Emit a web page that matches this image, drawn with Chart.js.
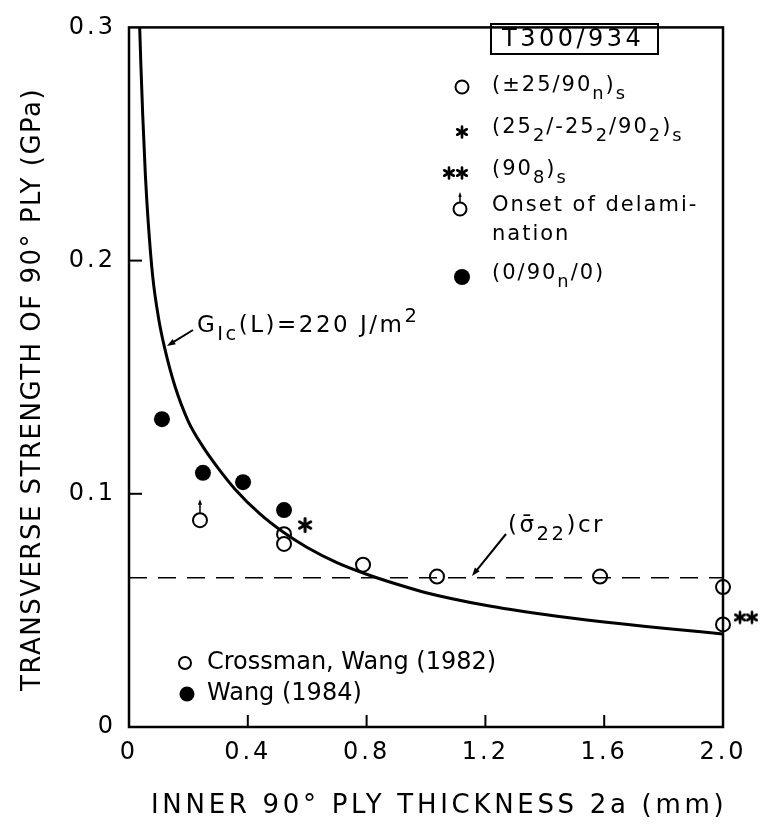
<!DOCTYPE html>
<html>
<head>
<meta charset="utf-8">
<script src="https://cdn.jsdelivr.net/npm/chart.js@4.4.1/dist/chart.umd.min.js"></script>
<style>
  body { margin: 0; background: #fff; }
  canvas { display: block; }
</style>
</head>
<body>
<canvas id="chartgraph" width="760" height="825"></canvas>
<script>
// fracture curve G_Ic(L) = 220 J/m^2
var curveT = [0.036, 0.040, 0.046, 0.055, 0.065, 0.080, 0.100, 0.121, 0.155, 0.20, 0.25, 0.30, 0.357, 0.44, 0.52, 0.60, 0.70, 0.80, 0.90, 1.00, 1.20, 1.40, 1.60, 1.80, 2.00];
var curveS = [0.300, 0.284, 0.263, 0.237, 0.216, 0.193, 0.175, 0.162, 0.146, 0.131, 0.120, 0.111, 0.102, 0.0915, 0.0835, 0.0770, 0.0705, 0.0655, 0.0613, 0.0576, 0.0522, 0.0482, 0.0450, 0.0423, 0.0399];

// (sigma22)cr level
var critT = [0, 2.0];
var critS = [0.064, 0.064];

// Crossman, Wang (1982) open circles
var openT = [0.239, 0.522, 0.522, 0.788, 1.037, 1.586, 2.0, 2.0];
var openS = [0.0887, 0.0827, 0.0785, 0.0696, 0.0645, 0.0645, 0.060, 0.044];

// Wang (1984) filled circles (0/90n/0)
var filledT = [0.111, 0.249, 0.384, 0.522];
var filledS = [0.132, 0.109, 0.105, 0.093];

// asterisk mark for the (25_2/-25_2/90_2)s layup
var starT = [0.593];
var starS = [0.0866];

var xTicks = [0, 0.4, 0.8, 1.2, 1.6, 2.0];
var yTicks = [0, 0.1, 0.2, 0.3];

var FONT = '"DejaVu Sans", sans-serif';

function pts(xs, ys) {
  return xs.map(function(x, i) { return {x: x, y: ys[i]}; });
}

// six spoke asterisk used as point style
function makeAsterisk(r, lw) {
  var c = document.createElement('canvas');
  var s = Math.ceil(r * 2 + lw + 2);
  c.width = s; c.height = s;
  var g = c.getContext('2d');
  g.strokeStyle = '#000';
  g.lineWidth = lw;
  g.lineCap = 'round';
  for (var k = 0; k < 3; k++) {
    var a = Math.PI / 2 + k * Math.PI / 3;
    g.beginPath();
    g.moveTo(s / 2 + r * Math.cos(a), s / 2 + r * Math.sin(a));
    g.lineTo(s / 2 - r * Math.cos(a), s / 2 - r * Math.sin(a));
    g.stroke();
  }
  return c;
}
var asterisk = makeAsterisk(6.5, 3);
var asteriskSmall = makeAsterisk(5.5, 2.6);

function putImg(ctx, img, x, y) {
  ctx.drawImage(img, x - img.width / 2, y - img.height / 2);
}

// text with sub/superscripts: parts = [[text, ''|'sub'|'sup'], ...]
function rich(ctx, x, y, parts, size, spacing, subScale) {
  ctx.textBaseline = 'middle';
  ctx.textAlign = 'left';
  ctx.letterSpacing = (spacing || 0) + 'px';
  var k = subScale || 0.8;
  var cx = x;
  parts.forEach(function(p) {
    var kind = p[1] || '';
    var fs = kind ? size * k : size;
    var dy = kind === 'sub' ? size * 0.38 : (kind === 'sup' ? -size * 0.4 : 0);
    ctx.font = fs + 'px ' + FONT;
    ctx.fillText(p[0], cx, y + dy);
    cx += ctx.measureText(p[0]).width;
  });
  ctx.letterSpacing = '0px';
}

function arrow(ctx, x1, y1, x2, y2, head) {
  var a = Math.atan2(y2 - y1, x2 - x1);
  ctx.beginPath();
  ctx.moveTo(x1, y1);
  ctx.lineTo(x2 - Math.cos(a) * head * 0.6, y2 - Math.sin(a) * head * 0.6);
  ctx.stroke();
  ctx.beginPath();
  ctx.moveTo(x2, y2);
  ctx.lineTo(x2 - head * Math.cos(a - 0.35), y2 - head * Math.sin(a - 0.35));
  ctx.lineTo(x2 - head * Math.cos(a + 0.35), y2 - head * Math.sin(a + 0.35));
  ctx.closePath();
  ctx.fill();
}

function circle(ctx, x, y, r, filled) {
  ctx.beginPath();
  ctx.arc(x, y, r, 0, Math.PI * 2);
  if (filled) { ctx.fill(); } else { ctx.fillStyle = '#fff'; ctx.fill(); ctx.fillStyle = '#000'; ctx.stroke(); }
}

var framePlugin = {
  id: 'frame',
  beforeDraw: function(chart) {
    // wide lettering for tick labels
    chart.ctx.letterSpacing = '3px';
  },
  afterDatasetsDraw: function(chart) {
    var ctx = chart.ctx;
    var a = chart.chartArea;
    var xs = chart.scales.x, ys = chart.scales.y;
    ctx.save();
    ctx.letterSpacing = '0px';
    ctx.strokeStyle = '#000';
    ctx.fillStyle = '#000';

    // frame
    ctx.lineWidth = 2.5;
    ctx.strokeRect(a.left, a.top, a.right - a.left, a.bottom - a.top);

    // inward ticks
    ctx.lineWidth = 2;
    xTicks.forEach(function(v) {
      if (v === 0 || v === 2.0) return;
      var px = xs.getPixelForValue(v);
      ctx.beginPath(); ctx.moveTo(px, a.bottom); ctx.lineTo(px, a.bottom - 12); ctx.stroke();
    });
    yTicks.forEach(function(v) {
      if (v === 0 || v === 0.3) return;
      var py = ys.getPixelForValue(v);
      ctx.beginPath(); ctx.moveTo(a.left, py); ctx.lineTo(a.left + 13, py); ctx.stroke();
    });

    // onset of delamination arrow over the first open circle
    var ox = xs.getPixelForValue(openT[0]), oy = ys.getPixelForValue(openS[0]);
    ctx.lineWidth = 1.5;
    arrow(ctx, ox, oy - 7, ox, oy - 21, 6);

    // ** label beside the (90_8)s point
    var dx = xs.getPixelForValue(openT[7]), dy = ys.getPixelForValue(openS[7]);
    putImg(ctx, asteriskSmall, dx + 17, dy - 7);
    putImg(ctx, asteriskSmall, dx + 29, dy - 7);

    // legend box
    ctx.lineWidth = 2;
    ctx.strokeRect(491, 24, 167, 30);
    ctx.font = '24px ' + FONT;
    ctx.textAlign = 'left';
    ctx.textBaseline = 'middle';
    ctx.letterSpacing = '3.5px';
    ctx.fillText('T300/934', 502, 40);
    ctx.letterSpacing = '0px';

    var lx = 462, tx = 492, fs = 21, sp = 2;
    ctx.lineWidth = 2;
    circle(ctx, lx, 87, 6.5, false);
    rich(ctx, tx, 86, [['(\u00b125/90'], ['n', 'sub'], [')'], ['s', 'sub']], fs, sp, 0.85);

    putImg(ctx, asteriskSmall, lx, 132);
    rich(ctx, tx, 128, [['(25'], ['2', 'sub'], ['/-25'], ['2', 'sub'], ['/90'], ['2', 'sub'], [')'], ['s', 'sub']], fs, sp, 0.85);

    putImg(ctx, asteriskSmall, lx - 13, 173);
    putImg(ctx, asteriskSmall, lx, 173);
    rich(ctx, tx, 170, [['(90'], ['8', 'sub'], [')'], ['s', 'sub']], fs, sp, 0.85);

    ctx.lineWidth = 2;
    circle(ctx, lx - 2, 209, 6.5, false);
    ctx.lineWidth = 1.5;
    arrow(ctx, lx - 2, 202, lx - 2, 192, 5);
    rich(ctx, tx, 206, [['Onset of delami-']], fs, sp);
    rich(ctx, tx, 235, [['nation']], fs, sp);

    circle(ctx, lx, 277, 8, true);
    rich(ctx, tx, 274, [['(0/90'], ['n', 'sub'], ['/0)']], fs, sp, 0.85);

    // source legend, lower left
    ctx.lineWidth = 2;
    circle(ctx, 185, 663, 6, false);
    rich(ctx, 207, 663, [['Crossman, Wang (1982)']], 24, 0);
    circle(ctx, 187, 694, 7.5, true);
    rich(ctx, 207, 694, [['Wang (1984)']], 24, 0);

    // G_Ic label
    ctx.lineWidth = 2;
    arrow(ctx, 193, 330, 167, 346, 9);
    rich(ctx, 197, 326, [['G'], ['Ic', 'sub'], ['(L)=220 J/m'], ['2', 'sup']], 23, 2.5, 0.85);

    // (sigma22)cr label
    ctx.lineWidth = 2;
    arrow(ctx, 506, 534, 472, 576, 9);
    rich(ctx, 508, 526, [['(\u03c3\u0304'], ['22', 'sub'], [')cr']], 23, 2.5, 0.85);

    // axis titles
    ctx.font = '26px ' + FONT;
    ctx.textAlign = 'left';
    ctx.textBaseline = 'middle';
    ctx.letterSpacing = '3.7px';
    ctx.fillText('INNER 90\u00b0 PLY THICKNESS 2a (mm)', 151, 806);
    ctx.letterSpacing = '1.5px';
    ctx.translate(33, 691);
    ctx.rotate(-Math.PI / 2);
    ctx.fillText('TRANSVERSE STRENGTH OF 90\u00b0 PLY (GPa)', 0, 0);
    ctx.restore();
  }
};

var ctx = document.getElementById('chartgraph').getContext('2d');

var chart = new Chart(ctx, {
  type: 'scatter',
  data: {
    datasets: [{
      label: 'G_Ic(L) = 220 J/m2',
      data: pts(curveT, curveS),
      showLine: true,
      borderColor: '#000',
      borderWidth: 3,
      pointRadius: 0,
      cubicInterpolationMode: 'monotone'
    }, {
      label: '(sigma22)cr',
      data: pts(critT, critS),
      showLine: true,
      borderColor: '#000',
      borderWidth: 1.5,
      borderDash: [18, 11],
      pointRadius: 0
    }, {
      label: 'Crossman, Wang (1982)',
      data: pts(openT, openS),
      pointRadius: 7,
      pointBorderWidth: 2,
      pointBackgroundColor: '#fff',
      pointBorderColor: '#000',
      clip: false
    }, {
      label: 'Wang (1984)',
      data: pts(filledT, filledS),
      pointRadius: 8,
      pointBorderWidth: 0,
      pointBackgroundColor: '#000',
      pointBorderColor: '#000',
      clip: false
    }, {
      label: '(25_2/-25_2/90_2)s',
      data: pts(starT, starS),
      pointStyle: asterisk,
      clip: false
    }]
  },
  options: {
    responsive: false,
    animation: false,
    devicePixelRatio: 1,
    layout: { padding: { top: 20, right: 37, left: 0, bottom: 0 } },
    plugins: { legend: { display: false }, tooltip: { enabled: false } },
    scales: {
      x: {
        type: 'linear',
        min: 0,
        max: 2.0,
        afterFit: function(s) { s.height = 98; },
        afterBuildTicks: function(s) { s.ticks = xTicks.map(function(v) { return {value: v}; }); },
        grid: { display: false, drawTicks: false },
        border: { display: false },
        ticks: {
          padding: 11,
          color: '#000',
          font: { family: FONT, size: 24 },
          callback: function(v) { return v === 0 ? '0' : v.toFixed(1); }
        }
      },
      y: {
        type: 'linear',
        min: 0,
        max: 0.3,
        afterFit: function(s) { s.width = 129; },
        afterBuildTicks: function(s) { s.ticks = yTicks.map(function(v) { return {value: v}; }); },
        grid: { display: false, drawTicks: false },
        border: { display: false },
        ticks: {
          padding: 13,
          color: '#000',
          font: { family: FONT, size: 24 },
          callback: function(v) { return v === 0 ? '0' : v.toFixed(1); }
        }
      }
    }
  },
  plugins: [framePlugin]
});
</script>
</body>
</html>
